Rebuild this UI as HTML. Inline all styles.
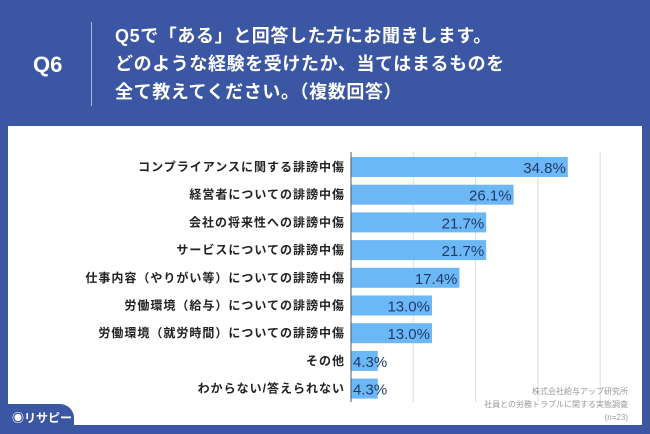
<!DOCTYPE html>
<html><head><meta charset="utf-8"><style>
body{margin:0;width:650px;height:434px;background:#3b57a4;font-family:"Liberation Sans","Noto Sans CJK JP",sans-serif;position:relative;overflow:hidden}
.t{position:absolute;color:#fff;font-weight:bold}
</style></head><body>
<div class="t" style="left:33px;top:52px;font-size:22px">Q6</div>
<div style="position:absolute;left:91px;top:22px;width:1px;height:84px;background:#a9b6d8"></div>
<div class="t" style="left:115px;top:22px;font-size:18px;line-height:28px;letter-spacing:0.6px">Q5で「ある」と回答した方にお聞きします。<br>どのような経験を受けたか、当てはまるものを<br>全て教えてください。（複数回答）</div>
<div style="position:absolute;left:8px;top:126px;width:634px;height:299px;background:#fff"></div>
<svg id="c" width="650" height="434" style="position:absolute;left:0;top:0"></svg>
<div style="position:absolute;left:6px;top:404px;width:68px;height:30px;background:#3b57a4;border-top-right-radius:14px"></div>
<div class="t" style="left:12px;top:409px;font-size:12px">◉リサピー</div>
<div style="position:absolute;right:22px;top:385px;text-align:right;color:#999;font-size:8px;line-height:13px">株式会社給与アップ研究所<br>社員との労務トラブルに関する実態調査<br>(n=23)</div>
<script>
const categories=["コンプライアンスに関する誹謗中傷","経営者についての誹謗中傷","会社の将来性への誹謗中傷","サービスについての誹謗中傷","仕事内容（やりがい等）についての誹謗中傷","労働環境（給与）についての誹謗中傷","労働環境（就労時間）についての誹謗中傷","その他","わからない/答えられない"];
const values=[34.8,26.1,21.7,21.7,17.4,13.0,13.0,4.3,4.3];
const gridTicks=[10,20,30,40];
const svg=document.getElementById('c');const NS='http://www.w3.org/2000/svg';
const x0=351,scale=6.23,y0=157,pitch=27.7,bh=20;
const xs=v=>x0+v*scale;
function mk(t,a){const e=document.createElementNS(NS,t);for(const k in a)e.setAttribute(k,a[k]);svg.appendChild(e);return e;}
gridTicks.forEach(g=>{const l=mk('line',{x1:xs(g),x2:xs(g),y1:152,y2:402,stroke:'#ddd','stroke-width':1});

});
categories.forEach((c,i)=>{const y=y0+i*pitch;
const r=mk('rect',{x:x0,y:y,width:values[i]*scale,height:bh,fill:'#6cb8f6'});


const lb=mk('text',{x:345,y:y+14,'text-anchor':'end','font-size':12,'letter-spacing':1,'font-weight':'bold',fill:'#222'});lb.textContent=c;


const v=mk('text',{x:xs(values[i])-2,y:y+16,'text-anchor':values[i]<8?'start':'end','font-size':15,fill:'#1f3a68'});
if(values[i]<8)v.setAttribute('x',x0+2);
v.textContent=values[i].toFixed(1)+'%';

});
const ax=mk('line',{x1:x0,x2:x0,y1:152,y2:402,stroke:'#555','stroke-width':1});


</script>
</body></html>
